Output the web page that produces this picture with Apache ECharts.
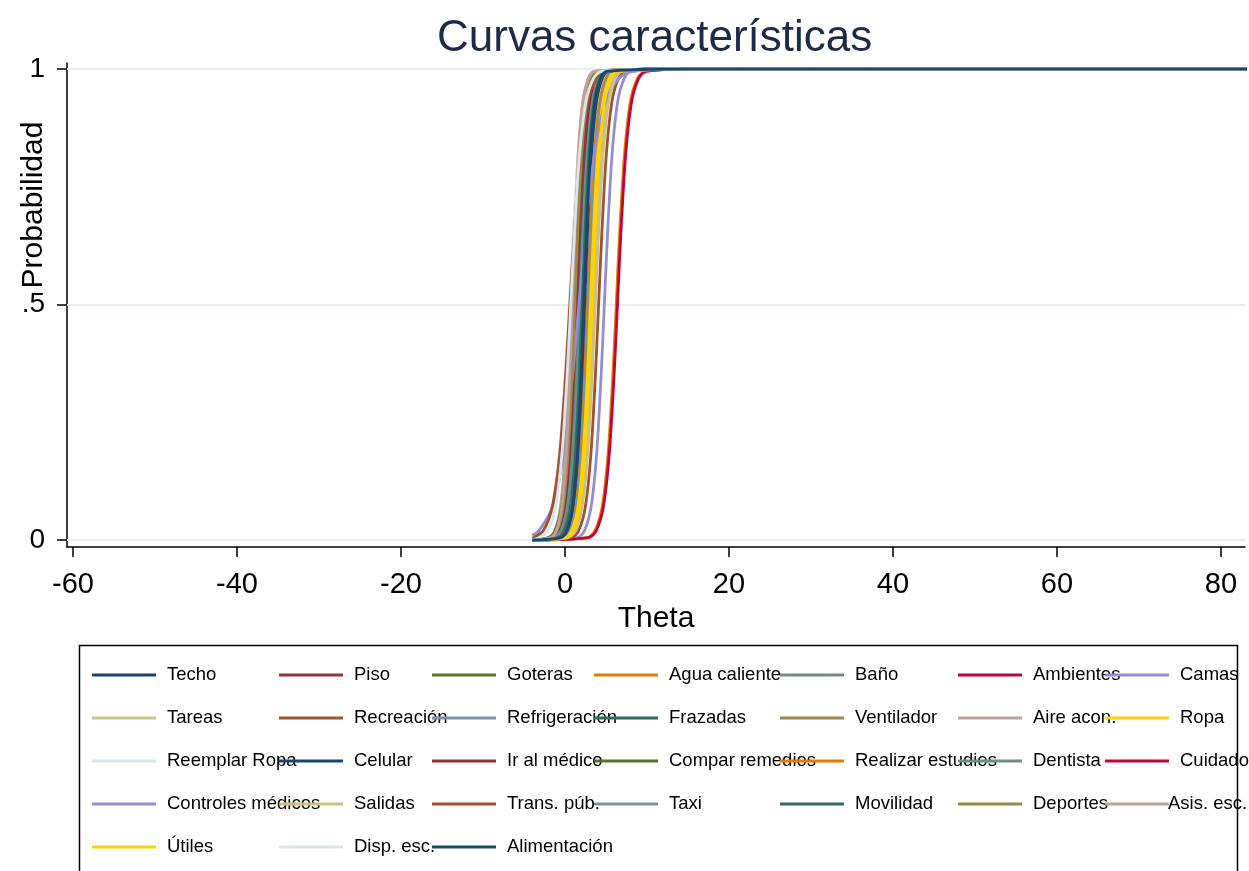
<!DOCTYPE html>
<html><head><meta charset="utf-8">
<script src="https://cdn.jsdelivr.net/npm/echarts@6/dist/echarts.min.js"></script>
<style>html,body{margin:0;padding:0;background:#fff}#c{width:1249px;height:871px}</style>
</head><body><div id="c"></div>
<script>
// ---- data ----
const items = ['Techo','Piso','Goteras','Agua caliente','Baño','Ambientes','Camas',
  'Tareas','Recreación','Refrigeración','Frazadas','Ventilador','Aire acon.','Ropa',
  'Reemplar Ropa','Celular','Ir al médico','Compar remedios','Realizar estudios','Dentista','Cuidado',
  'Controles médicos','Salidas','Trans. púb.','Taxi','Movilidad','Deportes','Asis. esc.',
  'Útiles','Disp. esc.','Alimentación'];
// probability levels at which each curve's theta was read
const probLevels = [0.005, 0.02, 0.07, 0.18, 0.35, 0.5, 0.65, 0.82, 0.93, 0.98, 0.995];
const thetaAtLevel = [
  [-0.94,-0.16,0.56,1.16,1.66,2.00,2.34,2.84,3.44,4.16,4.94],
  [-1.34,-0.56,0.16,0.76,1.26,1.60,1.94,2.44,3.04,3.76,4.54],
  [-1.49,-0.75,-0.06,0.50,0.97,1.30,1.63,2.10,2.66,3.35,4.09],
  [-0.41,0.41,1.18,1.81,2.34,2.70,3.06,3.59,4.22,4.99,5.81],
  [-1.04,-0.26,0.46,1.06,1.56,1.90,2.24,2.74,3.34,4.06,4.84],
  [-1.24,-0.46,0.26,0.86,1.36,1.70,2.04,2.54,3.14,3.86,4.64],
  [1.49,2.37,3.18,3.85,4.41,4.80,5.19,5.75,6.42,7.23,8.11],
  [0.19,1.07,1.88,2.55,3.11,3.50,3.89,4.45,5.12,5.93,6.81],
  [0.79,1.67,2.48,3.15,3.71,4.10,4.49,5.05,5.72,6.53,7.41],
  [-0.21,0.61,1.38,2.01,2.54,2.90,3.26,3.79,4.42,5.19,6.01],
  [-1.29,-0.55,0.14,0.70,1.17,1.50,1.83,2.30,2.86,3.55,4.29],
  [-1.45,-0.75,-0.09,0.44,0.89,1.20,1.51,1.96,2.49,3.15,3.85],
  [-1.99,-1.25,-0.56,0.00,0.47,0.80,1.13,1.60,2.16,2.85,3.59],
  [-0.01,0.81,1.58,2.21,2.74,3.10,3.46,3.99,4.62,5.39,6.21],
  [-3.57,-2.49,-1.49,-0.67,0.02,0.50,0.98,1.67,2.49,3.49,4.57],
  [-0.54,0.24,0.96,1.56,2.06,2.40,2.74,3.24,3.84,4.56,5.34],
  [-1.54,-0.76,-0.04,0.56,1.06,1.40,1.74,2.24,2.84,3.56,4.34],
  [-2.01,-1.19,-0.42,0.21,0.74,1.10,1.46,1.99,2.62,3.39,4.21],
  [2.72,3.66,4.53,5.24,5.84,6.25,6.66,7.26,7.97,8.84,9.78],
  [-1.31,-0.49,0.28,0.91,1.44,1.80,2.16,2.69,3.32,4.09,4.91],
  [2.87,3.81,4.68,5.39,5.99,6.40,6.81,7.41,8.12,8.99,9.93],
  [-4.92,-3.17,-1.53,-0.20,0.93,1.70,2.47,3.60,4.93,6.57,8.32],
  [0.39,1.27,2.08,2.75,3.31,3.70,4.09,4.65,5.32,6.13,7.01],
  [-3.81,-2.64,-1.56,-0.66,0.08,0.60,1.12,1.86,2.76,3.84,5.01],
  [-0.74,0.04,0.76,1.36,1.86,2.20,2.54,3.04,3.64,4.36,5.14],
  [-0.84,-0.06,0.66,1.26,1.76,2.10,2.44,2.94,3.54,4.26,5.04],
  [-1.74,-0.96,-0.24,0.36,0.86,1.20,1.54,2.04,2.64,3.36,4.14],
  [-1.75,-1.05,-0.39,0.14,0.59,0.90,1.21,1.66,2.19,2.85,3.55],
  [0.19,1.01,1.78,2.41,2.94,3.30,3.66,4.19,4.82,5.59,6.41],
  [-3.08,-2.08,-1.15,-0.38,0.26,0.70,1.14,1.78,2.55,3.48,4.48],
  [-0.49,0.25,0.94,1.50,1.97,2.30,2.63,3.10,3.66,4.35,5.09]
];
const thetaStart = -4;       // curves begin here
const thetaAllAtOne = 15;    // every curve sits at 1 from here on
const thetaEnd = 84;         // curves run off the right edge
const probAtStart = [0,0,0,0,0,0,0, 0,0,0,0,0,0,0, 0.003,0,0,0,0,0,0, 0.010,0,0.004,0,0,0,0, 0,0.0015,0];
const xTickValues = [-60,-40,-20,0,20,40,60,80];
const yTickValues = [0, 0.5, 1];
const yTickLabels = ['0', '.5', '1'];

// ---- styling ----
const palette = ['#1a476f','#90353b','#55752f','#e37e00','#6e8e84','#c10534','#938dd2',
  '#cac27e','#a0522d','#7b92a8','#2d6d66','#9c8847','#bfa19c','#ffd200','#d9e6eb'];
const FONT = "'Liberation Sans', Arial, sans-serif";
const colX = [92, 279, 432, 594, 780, 958, 1105];
const rowTop = 665, rowStep = 43;

const series = items.map((name, i) => {
  const pts = [[thetaStart, probAtStart[i]]];
  thetaAtLevel[i].forEach((t, k) => { if (t > thetaStart) pts.push([t, probLevels[k]]); });
  pts.push([thetaAllAtOne, 1]);
  pts.push([thetaEnd, 1]);
  const c = palette[i % palette.length];
  const s = {
    type: 'line', name, data: pts, showSymbol: false, symbol: 'none',
    smooth: 0.3, color: c, itemStyle: {color: c}, z: 2,
    lineStyle: {width: 2.8, color: c}, silent: true, emphasis: {disabled: true},
    animation: false, clip: true
  };
  if (i === 0) {
    s.markLine = {
      z: 1, silent: true, symbol: 'none', animation: false, label: {show: false},
      lineStyle: {color: '#e6eef1', width: 2, type: 'solid'},
      data: yTickValues.map(v => ({yAxis: v}))
    };
  }
  return s;
});

const legendBase = {
  orient: 'vertical', padding: 0,
  itemWidth: 64, itemHeight: 3, itemGap: rowStep - 20, icon: 'rect', selectedMode: false,
  textStyle: {fontSize: 18.5, fontFamily: FONT, color: '#000', lineHeight: 20, padding: [0,0,0,6]}
};
const legends = colX.map((x, j) => Object.assign({}, legendBase, {
  left: x, top: rowTop,
  data: items.filter((_, i) => i % 7 === j && !(j === 6 && i >= 21))
}));
// last entry of the 7th column sits slightly further left, as in the original
legends.push(Object.assign({}, legendBase, {
  left: colX[6], top: rowTop + 3 * rowStep,
  textStyle: Object.assign({}, legendBase.textStyle, {padding: [0,0,0,-6]}),
  data: [items[27]]
}));

const chart = echarts.init(document.getElementById('c'), null, {renderer: 'canvas'});
chart.setOption({
  backgroundColor: '#fff',
  animation: false,
  title: {
    text: 'Curvas características', left: 437, top: 17, padding: 0,
    textStyle: {fontSize: 44, fontWeight: 'normal', color: '#1e2a4a', fontFamily: FONT}
  },
  grid: {left: 67, right: 4, top: 63, bottom: 324},
  xAxis: {
    type: 'value', min: -60.73, max: 82.93,
    axisLine: {show: true, onZero: false, lineStyle: {color: '#000', width: 1.5}},
    axisTick: {show: true, customValues: xTickValues, length: 10, lineStyle: {color: '#000', width: 1.5}},
    axisLabel: {customValues: xTickValues, fontSize: 29, margin: 23, color: '#000', fontFamily: FONT},
    splitLine: {show: false},
    name: 'Theta', nameLocation: 'middle', nameGap: 51,
    nameTextStyle: {fontSize: 30, color: '#000', fontFamily: FONT}
  },
  yAxis: {
    type: 'value', min: -0.0149, max: 1.0127,
    axisLine: {show: true, onZero: false, lineStyle: {color: '#000', width: 1.5}},
    axisTick: {show: true, customValues: yTickValues, length: 10, lineStyle: {color: '#000', width: 1.5}},
    axisLabel: {customValues: yTickValues, fontSize: 28, margin: 22, color: '#000', fontFamily: FONT,
      formatter: v => yTickLabels[yTickValues.indexOf(v)] ?? String(v)},
    splitLine: {show: false}
  },
  legend: legends,
  graphic: [
    {type: 'text', x: 34, y: 205, rotation: Math.PI / 2, silent: true,
     style: {text: 'Probabilidad', fontSize: 30, fontFamily: FONT, fill: '#000', align: 'center', verticalAlign: 'middle'}},
    {type: 'rect', silent: true, shape: {x: 79.5, y: 645.5, width: 1158, height: 300},
     style: {fill: 'none', stroke: '#000', lineWidth: 1.5}}
  ],
  series
});
</script></body></html>
